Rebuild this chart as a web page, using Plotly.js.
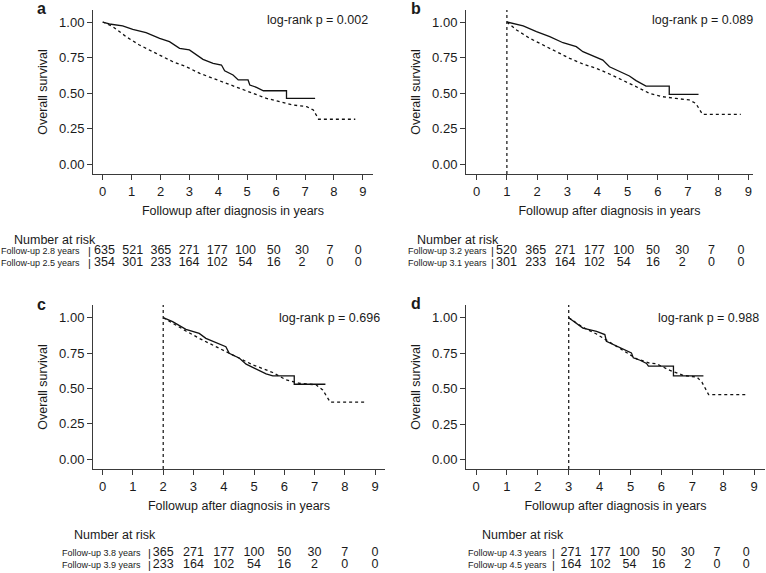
<!DOCTYPE html>
<html><head><meta charset="utf-8">
<script src="https://cdn.plot.ly/plotly-3.0.1.min.js"></script>
<style>html,body{margin:0;padding:0;background:#fff}#chart{width:766px;height:573px}</style>
</head><body><div id="chart"></div>
<script>
// ---------- Data ----------
// Panel a (landmark 0 years)
const tA1 = [0,0.23,0.69,1.04,1.5,1.97,2.31,2.66,3.0,3.24,3.47,3.82,4.11,4.22,4.51,4.69,5.03,5.09,5.32,5.56,6.36,6.36,7.35];
const sA1 = [1.0,0.986,0.972,0.948,0.925,0.885,0.862,0.815,0.803,0.768,0.737,0.709,0.697,0.657,0.627,0.592,0.592,0.556,0.54,0.516,0.516,0.462,0.462];
const tA2 = [0,0.35,0.81,1.27,1.85,2.43,2.89,3.36,3.82,4.28,4.75,5.21,5.67,6.13,6.6,7.06,7.29,7.47,8.74];
const sA2 = [1.0,0.967,0.897,0.838,0.779,0.72,0.685,0.638,0.603,0.568,0.533,0.498,0.462,0.439,0.415,0.404,0.38,0.315,0.315];
// Panel b (landmark 1 year)
const tB1 = [1,1.1,1.54,1.98,2.42,2.86,3.3,3.52,3.96,4.18,4.4,4.73,5.06,5.28,5.61,6.38,6.38,7.35];
const sB1 = [1.0,0.995,0.972,0.932,0.897,0.854,0.826,0.791,0.751,0.732,0.685,0.65,0.62,0.587,0.549,0.549,0.49,0.49];
const tB2 = [1,1.32,1.76,2.2,2.64,3.08,3.52,3.96,4.4,4.84,5.28,5.72,6.16,6.6,7.04,7.26,7.48,8.75];
const sB2 = [1.0,0.944,0.885,0.838,0.791,0.744,0.704,0.674,0.634,0.592,0.545,0.498,0.474,0.462,0.451,0.427,0.35,0.35];
// Panel c (landmark 2 years)
const tC1 = [2,2.31,2.75,2.97,3.19,3.41,3.85,4.07,4.18,4.52,4.74,5.07,5.4,5.62,6.33,6.33,7.36];
const sC1 = [1.0,0.972,0.918,0.902,0.889,0.854,0.814,0.795,0.748,0.713,0.671,0.635,0.602,0.588,0.588,0.529,0.529];
const tC2 = [2,2.31,2.75,3.19,3.63,4.07,4.52,4.96,5.4,5.62,6.06,6.5,7.05,7.27,7.52,8.65];
const sC2 = [1.0,0.96,0.906,0.854,0.807,0.76,0.713,0.666,0.631,0.612,0.56,0.536,0.525,0.489,0.402,0.402];
// Panel d (landmark 3 years)
const tD1 = [3,3.25,3.46,3.9,4.17,4.22,4.55,4.76,5.03,5.09,5.31,5.52,5.58,6.39,6.39,7.36];
const sD1 = [1.0,0.963,0.927,0.904,0.881,0.834,0.799,0.776,0.752,0.717,0.7,0.677,0.658,0.658,0.59,0.59];
const tD2 = [3,3.46,3.9,4.33,4.76,5.2,5.63,5.84,6.28,6.71,7.15,7.31,7.53,8.77];
const sD2 = [1.0,0.932,0.885,0.827,0.768,0.71,0.679,0.675,0.628,0.593,0.581,0.546,0.457,0.457];

// Number at risk tables
const riskTimesA = [0,1,2,3,4,5,6,7,8,9];
const riskA1 = [635,521,365,271,177,100,50,30,7,0];
const riskA2 = [354,301,233,164,102,54,16,2,0,0];
const riskTimesB = [1,2,3,4,5,6,7,8,9];
const riskB1 = [520,365,271,177,100,50,30,7,0];
const riskB2 = [301,233,164,102,54,16,2,0,0];
const riskTimesC = [2,3,4,5,6,7,8,9];
const riskC1 = [365,271,177,100,50,30,7,0];
const riskC2 = [233,164,102,54,16,2,0,0];
const riskTimesD = [3,4,5,6,7,8,9];
const riskD1 = [271,177,100,50,30,7,0];
const riskD2 = [164,102,54,16,2,0,0];

const groupsA = ['Follow-up 2.8 years','Follow-up 2.5 years'];
const groupsB = ['Follow-up 3.2 years','Follow-up 3.1 years'];
const groupsC = ['Follow-up 3.8 years','Follow-up 3.9 years'];
const groupsD = ['Follow-up 4.3 years','Follow-up 4.5 years'];
const pValues = ['0.002','0.089','0.696','0.988'];
const panelLetters = ['a','b','c','d'];
const xTicks = [0,1,2,3,4,5,6,7,8,9];
const yTicks = [0,0.25,0.5,0.75,1];

// ---------- Layout geometry (pixels) ----------
const W = 766, H = 573;
const FONT = '"Liberation Sans", Arial, Helvetica, sans-serif';
const INK = '#1a1a1a', AX = '#3a3a3a';
const geo = [
  {xd:[93,373], x0:102.7, xs:28.9, yd:[10,174], y0:164, ys:142, tx0:104.5, txs:28.2, rows:[244.7,268.7], head:[11.7,240], lab:82, bar:89, letter:[41.5,8.5], lr:[370,20], vline:false},
  {xd:[466,753], x0:476.7, xs:30.18, yd:[10,174], y0:164, ys:142, tx0:477.2, txs:29.3, rows:[244.7,268.7], head:[414.7,240], lab:489, bar:492.5, letter:[416,8.5], lr:[755,20], vline:true},
  {xd:[93,385], x0:102.7, xs:30.26, yd:[305,469], y0:459, ys:141.3, tx0:102.7, txs:30.26, rows:[546.6,571.2], head:[71.7,535], lab:143.3, bar:149.3, letter:[41,304], lr:[381.7,318], vline:true},
  {xd:[466,765], x0:476, xs:30.9, yd:[305,469], y0:459.5, ys:141.8, tx0:483.4, txs:29.2, rows:[546.6,571.2], head:[479.7,535], lab:548.7, bar:553, letter:[416,303.5], lr:[761,318], vline:true}
];

const panels = [
  {curves:[[tA1,sA1],[tA2,sA2]], riskT:riskTimesA, risk:[riskA1,riskA2], groups:groupsA},
  {curves:[[tB1,sB1],[tB2,sB2]], riskT:riskTimesB, risk:[riskB1,riskB2], groups:groupsB},
  {curves:[[tC1,sC1],[tC2,sC2]], riskT:riskTimesC, risk:[riskC1,riskC2], groups:groupsC},
  {curves:[[tD1,sD1],[tD2,sD2]], riskT:riskTimesD, risk:[riskD1,riskD2], groups:groupsD}
];

const traces = [];
const layout = {
  width: W, height: H,
  margin: {l:0, r:0, t:0, b:0},
  paper_bgcolor: '#fff', plot_bgcolor: 'rgba(0,0,0,0)',
  showlegend: false, hovermode: false,
  font: {family: FONT, size: 12.5, color: INK},
  annotations: [], shapes: []
};

function px2x(px){ return px / W; }
function py2y(py){ return 1 - py / H; }

panels.forEach((p, i) => {
  const g = geo[i];
  const xid = i === 0 ? 'x' : 'x' + (i + 1);
  const yid = i === 0 ? 'y' : 'y' + (i + 1);
  const xk = i === 0 ? 'xaxis' : 'xaxis' + (i + 1);
  const yk = i === 0 ? 'yaxis' : 'yaxis' + (i + 1);
  const txid = 'x' + (i + 5), tyid = 'y' + (i + 5);

  layout[xk] = {
    domain: [px2x(g.xd[0]), px2x(g.xd[1])],
    range: [(g.xd[0] - g.x0) / g.xs, (g.xd[1] - g.x0) / g.xs],
    anchor: yid, tickmode: 'array', tickvals: xTicks,
    ticks: 'outside', ticklen: 5, tickwidth: 1, tickcolor: AX,
    showline: true, linecolor: AX, linewidth: 1, mirror: false,
    showgrid: false, zeroline: false,
    tickfont: {family: FONT, size: 13, color: INK},
    title: {text: 'Followup after diagnosis in years', font: {family: FONT, size: 12.5, color: INK}, standoff: 8}
  };
  layout[yk] = {
    domain: [py2y(g.yd[1]), py2y(g.yd[0])],
    range: [(g.y0 - g.yd[1]) / g.ys, (g.y0 - g.yd[0]) / g.ys],
    anchor: xid, tickmode: 'array', tickvals: yTicks, tickformat: '.2f',
    ticks: 'outside', ticklen: 5, tickwidth: 1, tickcolor: AX,
    showline: true, linecolor: AX, linewidth: 1, mirror: false,
    showgrid: false, zeroline: false,
    tickfont: {family: FONT, size: 13, color: INK},
    title: {text: 'Overall survival', font: {family: FONT, size: 12.5, color: INK}, standoff: 8}
  };
  // table axes
  layout['xaxis' + (i + 5)] = {
    domain: [0, 1], range: [-g.tx0 / g.txs, (W - g.tx0) / g.txs],
    anchor: tyid, visible: false, fixedrange: true
  };
  layout['yaxis' + (i + 5)] = {
    domain: [py2y(g.rows[1]), py2y(g.rows[0])], range: [2.5, 0.5],
    anchor: txid, visible: false, fixedrange: true
  };

  // survival curves
  p.curves.forEach((c, k) => {
    traces.push({
      type: 'scatter', mode: 'lines', x: c[0], y: c[1],
      xaxis: xid, yaxis: yid, cliponaxis: false,
      line: {color: '#111', width: 1.3, shape: 'linear', dash: k === 0 ? 'solid' : '3px,3px'}
    });
  });

  // landmark vertical line
  if (g.vline) {
    layout.shapes.push({
      type: 'line', xref: xid, x0: p.curves[0][0][0], x1: p.curves[0][0][0],
      yref: yid + ' domain', y0: 0, y1: 1,
      line: {color: '#222', width: 1.3, dash: '3px,3px'}
    });
  }

  // risk table numbers
  p.risk.forEach((r, k) => {
    traces.push({
      type: 'scatter', mode: 'text', x: p.riskT, y: p.riskT.map(() => k + 1),
      text: r.map(String), textposition: 'middle center',
      textfont: {family: FONT, size: 12.5, color: INK},
      xaxis: txid, yaxis: tyid, cliponaxis: false
    });
    layout.annotations.push({
      xref: 'paper', x: px2x(g.lab), xanchor: 'right',
      yref: tyid, y: k + 1, yanchor: 'middle',
      text: p.groups[k], showarrow: false,
      font: {family: FONT, size: 9, color: INK}
    });
    layout.annotations.push({
      xref: 'paper', x: px2x(g.bar), xanchor: 'center',
      yref: tyid, y: k + 1, yanchor: 'middle',
      text: '|', showarrow: false,
      font: {family: FONT, size: 11, color: INK}
    });
  });

  layout.annotations.push({
    xref: 'paper', x: px2x(g.head[0]), xanchor: 'left',
    yref: 'paper', y: py2y(g.head[1]), yanchor: 'middle',
    text: 'Number at risk', showarrow: false,
    font: {family: FONT, size: 12.5, color: INK}
  });
  layout.annotations.push({
    xref: 'paper', x: px2x(g.lr[0]), xanchor: 'right',
    yref: 'paper', y: py2y(g.lr[1]), yanchor: 'middle',
    text: 'log-rank p = ' + pValues[i], showarrow: false,
    font: {family: FONT, size: 12.5, color: INK}
  });
  layout.annotations.push({
    xref: 'paper', x: px2x(g.letter[0]), xanchor: 'center',
    yref: 'paper', y: py2y(g.letter[1]), yanchor: 'middle',
    text: '<b>' + panelLetters[i] + '</b>', showarrow: false,
    font: {family: FONT, size: 16, color: INK}
  });
});

Plotly.newPlot('chart', traces, layout, {staticPlot: true, displayModeBar: false});
</script>
</body></html>
